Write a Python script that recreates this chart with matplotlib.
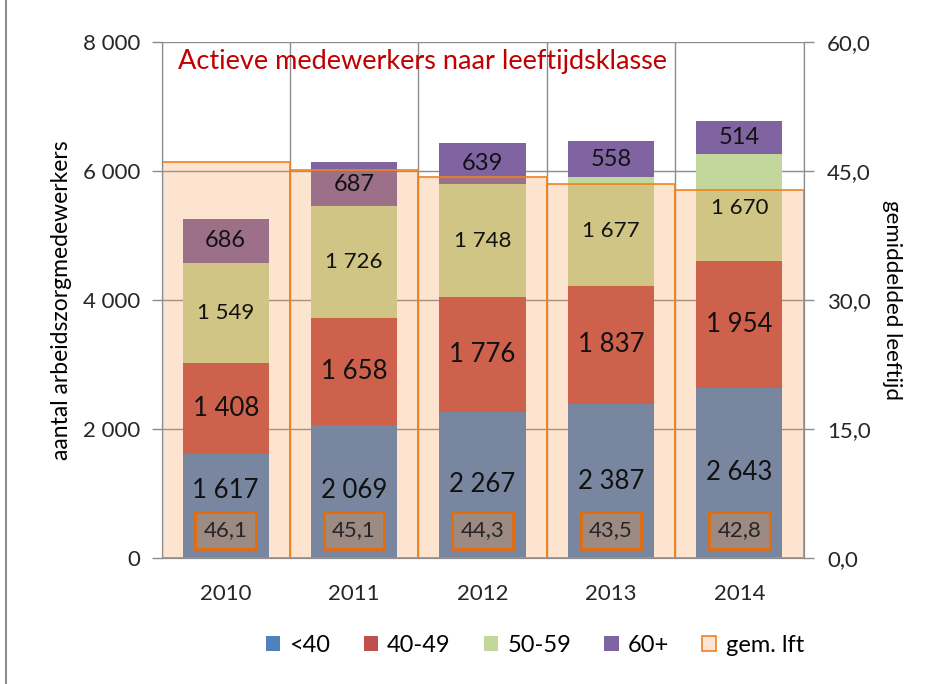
import matplotlib
matplotlib.use("Agg")
import matplotlib.pyplot as plt
from matplotlib.patches import Patch
from matplotlib.lines import Line2D
from matplotlib.ticker import FixedLocator, FuncFormatter
import numpy as np

plt.rcParams['font.family'] = ['Lato', 'DejaVu Sans']

years = ['2010', '2011', '2012', '2013', '2014']
lt40 = [1617, 2069, 2267, 2387, 2643]
f40_49 = [1408, 1658, 1776, 1837, 1954]
f50_59 = [1549, 1726, 1748, 1677, 1670]
f60p = [686, 687, 639, 558, 514]
gem_lft = [46.1, 45.1, 44.3, 43.5, 42.8]

series_names = ['<40', '40-49', '50-59', '60+']
series = [lt40, f40_49, f50_59, f60p]
colors = ['#4f81bd', '#c0504d', '#c3d69b', '#8064a2']
label_sizes = [18.5, 18.5, 16, 17]

W, H = 933, 684
fig = plt.figure(figsize=(W / 100, H / 100), dpi=100)
ax = fig.add_axes([161.5 / W, 1 - 558 / H, 642 / W, 516 / H])
ax2 = ax.twinx()

x = np.arange(len(years))
bottom = np.zeros(len(years))
for vals, c in zip(series, colors):
    ax.bar(x, vals, width=0.67, bottom=bottom, color=c, zorder=2)
    bottom += np.array(vals)

ax.set_xlim(-0.5, len(years) - 0.5)
ax.set_ylim(0, 8000)
ax.yaxis.set_major_locator(FixedLocator([0, 2000, 4000, 6000, 8000]))
ax.yaxis.set_major_formatter(FuncFormatter(lambda v, p: f"{v:,.0f}".replace(",", " ")))
ax.set_xticks(x)
ax.set_xticklabels(years)
ax.xaxis.set_minor_locator(FixedLocator(np.arange(len(years) + 1) - 0.5))
ax.set_axisbelow(True)
ax.grid(axis='y', which='major', color='#8c8c8c', lw=1.0, zorder=0)
ax.grid(axis='x', which='minor', color='#8c8c8c', lw=1.0, zorder=0)
ax.tick_params(axis='x', which='both', length=0, labelsize=16, colors='#262626', pad=19)
ax.tick_params(axis='y', length=7, width=1, color='#8c8c8c', labelsize=16, labelcolor='#262626', pad=8)
for s in ['left', 'bottom', 'right', 'top']:
    ax.spines[s].set_color('#8c8c8c')
ax.spines['top'].set_visible(False)
ax.set_ylabel('aantal arbeidszorgmedewerkers', fontsize=16.5, color='#000000', labelpad=8)

# average age overlay on secondary axis
ax2.bar(x, gem_lft, width=1.0, color='#f79646', alpha=0.25, zorder=1)
ax2.bar(x, gem_lft, width=1.0, fill=False, edgecolor='#f0821e', lw=1.2, zorder=2)
ax2.set_ylim(0, 60)
ax2.yaxis.set_major_locator(FixedLocator([0, 15, 30, 45, 60]))
ax2.yaxis.set_major_formatter(FuncFormatter(lambda v, p: f"{v:.1f}".replace(".", ",")))
ax2.tick_params(axis='y', length=7, width=1, color='#8c8c8c', labelsize=16, labelcolor='#262626', pad=10)
for s in ['left', 'bottom', 'right', 'top']:
    ax2.spines[s].set_color('#8c8c8c')
ax2.spines['top'].set_visible(False)
ax2.set_ylabel('gemiddelded leeftijd', fontsize=16, rotation=270, labelpad=22, color='#000000')

# data labels
bottom = np.zeros(len(years))
for vals, fs in zip(series, label_sizes):
    for i, v in enumerate(vals):
        yc = bottom[i] + v / 2
        if bottom[i] == 0:
            yc = max(yc, 1050)
        ax2.text(x[i], yc, f"{v:,}".replace(",", " "), transform=ax.transData,
                 ha='center', va='center', fontsize=fs, color='#111111', zorder=5)
    bottom += np.array(vals)

for i, a in enumerate(gem_lft):
    ax2.text(x[i], 3.2, f"{a:.1f}".replace(".", ","), ha='center', va='center',
             fontsize=16, color='#262626', zorder=6,
             bbox=dict(boxstyle='square,pad=0.38', facecolor='#9c8a83', edgecolor='#e46c0a', lw=2))

ax2.text(0.025, 0.962, 'Actieve medewerkers naar leeftijdsklasse', transform=ax.transAxes,
         ha='left', va='center', fontsize=19.5, color='#c00000', zorder=7)

handles = [Patch(facecolor=c, edgecolor='none') for c in colors]
handles.append(Patch(facecolor='#fde4d4', edgecolor='#f0821e', lw=1.2))
fig.legend(handles, series_names + ['gem. lft'], loc='center', bbox_to_anchor=(535 / W, 1 - 645 / H),
           ncol=5, frameon=False, fontsize=17, handlelength=0.6, handleheight=0.6,
           handletextpad=0.4, columnspacing=1.4)

fig.add_artist(Line2D([6 / W, 6 / W], [0, 1], transform=fig.transFigure, color='#8c8c8c', lw=1.5))

fig.savefig('out.png', dpi=100)
